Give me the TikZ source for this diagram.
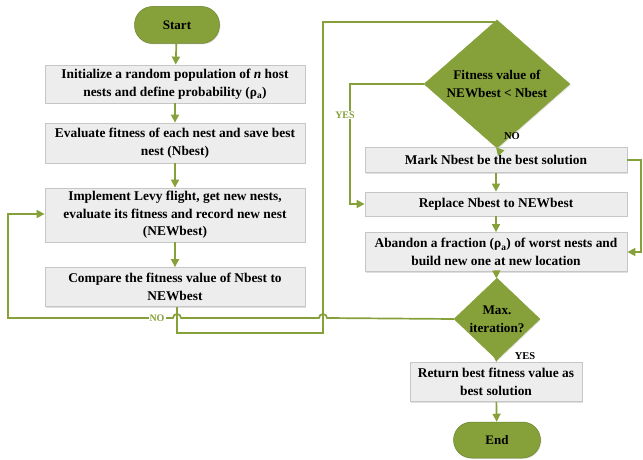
\documentclass[tikz,border=0pt]{standalone}
\usepackage{fontspec}
\setmainfont{Liberation Serif}
\usetikzlibrary{shapes.geometric,arrows.meta,shadows}
\definecolor{lgreen}{HTML}{86A13A}
\definecolor{boxfill}{HTML}{EDEDED}
\definecolor{boxline}{HTML}{C6C6C6}
\tikzset{
  box/.style={draw=boxline, line width=0.8pt, fill=boxfill, drop shadow={opacity=0.25,shadow xshift=1.2pt,shadow yshift=-1.2pt},
    align=center, inner sep=2pt, font=\bfseries\fontsize{13.4}{17.5}\selectfont},
  term/.style={fill=lgreen, draw=lgreen!80!black, line width=0.5pt, rounded corners=18pt, align=center,
    font=\bfseries\fontsize{13}{15}\selectfont, drop shadow={opacity=0.2,shadow xshift=1pt,shadow yshift=-1pt}},
  dec/.style={diamond, fill=lgreen, draw=lgreen, inner sep=0pt, align=center,
    font=\bfseries\fontsize{13.2}{18}\selectfont, drop shadow={opacity=0.2,shadow xshift=1pt,shadow yshift=-1pt}},
  conn/.style={draw=lgreen, line width=1.7pt},
  arr/.style={conn, -{Triangle[length=8pt,width=8pt]}},
  glabel/.style={text=lgreen, font=\bfseries\fontsize{10}{11}\selectfont, fill=white, inner sep=1pt},
  blabel/.style={text=black, font=\bfseries\fontsize{10.5}{11}\selectfont, inner sep=1pt},
}
\begin{document}
\begin{tikzpicture}[x=1pt,y=-1pt]
\useasboundingbox (0,0) rectangle (643,460);
% left column
\node[term, minimum width=85pt, minimum height=37pt] (start) at (177,25) {Start};
\node[box, minimum width=260pt, minimum height=38pt] (b1) at (175,84) {Initialize a random population of \textit{n} host\\nests and define probability (ρ\textsubscript{a})};
\node[box, minimum width=260pt, minimum height=40pt] (b2) at (175,143) {Evaluate fitness of each nest and save best\\nest (Nbest)};
\node[box, minimum width=260pt, minimum height=54pt] (b3) at (175,215) {Implement Levy flight, get new nests,\\evaluate its fitness and record new nest\\(NEWbest)};
\node[box, minimum width=260pt, minimum height=39pt] (b4) at (175,287) {Compare the fitness value of Nbest to\\NEWbest};
% right column
\node[dec, minimum width=146pt, minimum height=88pt] (d1) at (497,84) {Fitness value of\\NEWbest < Nbest};
\node[box, minimum width=262pt, minimum height=25pt] (mark) at (496,160) {Mark Nbest be the best solution};
\node[box, minimum width=262pt, minimum height=24pt] (repl) at (496,204) {Replace Nbest to NEWbest};
\node[box, minimum width=262pt, minimum height=39pt] (aband) at (496,252) {Abandon a fraction (ρ\textsubscript{a}) of worst nests and\\build new one at new location};
\node[dec, minimum width=86pt, minimum height=55pt] (d2) at (497,319) {Max.\\iteration?};
\node[box, minimum width=172pt, minimum height=39pt] (ret) at (496,382) {Return best fitness value as\\best solution};
\node[term, minimum width=87pt, minimum height=36pt] (end) at (497,440) {End};
% coordinates
\coordinate (c1) at (177,333);
\coordinate (c2) at (323,333);
\coordinate (c3) at (323,22);
\coordinate (c4) at (497,22);
\coordinate (y1) at (350,84);
\coordinate (y2) at (350,204);
\coordinate (m1) at (641,160);
\coordinate (m2) at (641,252);
\coordinate (n1) at (327,318);
\coordinate (n2) at (181,318);
\coordinate (n3) at (8,318);
\coordinate (n4) at (8,214);
% straight arrows
\draw[arr] (start) -- (b1);
\draw[arr] (b1) -- (b2);
\draw[arr] (b2) -- (b3);
\draw[arr] (b3) -- (b4);
\draw[arr] (mark) -- (repl);
\draw[arr] (repl) -- (aband);
\draw[arr] (aband) -- (d2);
\draw[arr] (d2) -- (ret);
\node[blabel] at (525,356) {YES};
\draw[arr] (ret) -- (end);
% loop from compare to decision 1
\draw[arr] (b4.south -| c1) -- (c1) -- (c2) -- (c3) -- (c4) -- (d1.north);
% yes branch
\draw[arr] (d1.west) -- (y1) -- (y2) -- (repl.west);
\node[glabel] at (345,115) {YES};
% no branch of d1
\draw[arr] (d1.south) -- (mark.north);
\node[blabel] at (512,136) {NO};
% mark to abandon
\draw[arr] (mark.east) -- (m1) -- (m2) -- (aband.east);
% no loop from max iteration
\draw[arr] (d2.west) -- (n1) arc[start angle=0,end angle=180,radius=4pt] -- (n2) arc[start angle=0,end angle=180,radius=4pt] -- (n3) -- (n4) -- (b3.west |- n4);
\node[glabel] at (157,318) {NO};
\end{tikzpicture}
\end{document}
